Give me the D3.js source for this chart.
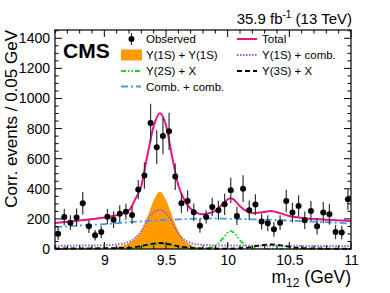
<!DOCTYPE html>
<html>
<head>
<meta charset="utf-8">
<script src="https://cdn.jsdelivr.net/npm/d3@7"></script>
<style>
  body { margin: 0; background: #fff; }
  svg text { font-family: "Liberation Sans", Arial, Helvetica, sans-serif; }
</style>
</head>
<body>
<div id="chart"></div>
<script>

// observed points (bin centres, corrected events, error)
const massBins = [8.625, 8.675, 8.725, 8.775, 8.825, 8.875, 8.925, 8.975, 9.025, 9.075, 9.125, 9.175,
  9.225, 9.275, 9.325, 9.375, 9.425, 9.475, 9.525, 9.575, 9.625, 9.675, 9.725, 9.775,
  9.825, 9.875, 9.925, 9.975, 10.025, 10.075, 10.125, 10.175, 10.225, 10.275, 10.325, 10.375,
  10.425, 10.475, 10.525, 10.575, 10.625, 10.675, 10.725, 10.775, 10.825, 10.875, 10.925, 10.975];
const observed = [102, 213, 175, 209, 304, 151, 91, 113, 215, 195, 235, 248,
  226, 395, 488, 837, 676, 751, 782, 481, 304, 319, 244, 155,
  213, 279, 257, 297, 390, 219, 401, 257, 295, 182, 171, 131,
  175, 319, 242, 286, 191, 253, 151, 242, 231, 113, 109, 330];
const observedErr = [42, 55, 49, 60, 75, 44, 35, 42, 51, 55, 55, 53,
  58, 64, 88, 128, 113, 122, 124, 89, 66, 71, 58, 47,
  44, 62, 64, 71, 84, 60, 89, 66, 69, 53, 53, 49,
  49, 75, 66, 71, 58, 66, 55, 71, 69, 47, 45, 71];

// fit components, sampled off the figure
const totalMass = [8.6, 8.8, 9.0, 9.1, 9.2, 9.25, 9.3, 9.35, 9.4, 9.45, 9.5, 9.55, 9.6, 9.65, 9.7, 9.8,
  9.9, 9.95, 10.0, 10.02, 10.05, 10.1, 10.15, 10.2, 10.3, 10.35, 10.4, 10.5, 10.6, 10.8, 11.0];
const totalVals = [173, 189, 209, 224, 257, 330, 420, 625, 815, 902, 822, 611, 423, 324, 268, 231,
  253, 290, 330, 338, 328, 284, 253, 239, 246, 252, 244, 219, 206, 195, 186];

const combMass = [8.6, 8.8, 9.0, 9.2, 9.4, 9.6, 9.8, 9.9, 10.0, 10.2, 10.4, 10.6, 10.8, 11.0];
const combVals = [146, 156, 165, 178, 189, 197, 202, 203, 201, 197, 192, 185, 178, 169];

const y1s1sMass = [8.6, 8.9, 9.0, 9.1, 9.2, 9.25, 9.3, 9.35, 9.4, 9.45, 9.5, 9.55, 9.6, 9.65, 9.7, 9.75, 9.8, 9.9, 11.0];
const y1s1sVals = [0, 1, 4, 14, 40, 70, 120, 215, 322, 380, 325, 220, 120, 58, 26, 11, 4, 1, 0];

const y1scombMass = [8.6, 9.0, 9.1, 9.2, 9.25, 9.3, 9.35, 9.4, 9.45, 9.5, 9.55, 9.6, 9.65, 9.7, 9.8, 10.0, 11.0];
const y1scombVals = [22, 24, 30, 47, 75, 120, 195, 245, 260, 238, 175, 100, 60, 40, 27, 23, 20];

const y2sMass = [8.6, 9.2, 9.3, 9.4, 9.45, 9.5, 9.6, 9.7, 9.8, 9.85, 9.9, 9.95, 10.0, 10.02, 10.05, 10.1, 10.15, 10.2, 10.3, 11.0];
const y2sVals = [2, 5, 14, 30, 35, 30, 14, 5, 3, 8, 22, 60, 108, 120, 108, 58, 22, 7, 2, 1];

const y3sMass = [8.6, 9.2, 9.3, 9.4, 9.45, 9.5, 9.6, 9.7, 9.8, 10.0, 10.15, 10.25, 10.35, 10.45, 10.55, 10.7, 11.0];
const y3sVals = [3, 8, 20, 36, 40, 36, 18, 8, 4, 3, 8, 22, 30, 22, 9, 4, 2];

const xTicks = [9, 9.5, 10, 10.5, 11];
const yTicks = [0, 200, 400, 600, 800, 1000, 1200, 1400];

let margin = {top: 30, right: 39, bottom: 44, left: 55};
let width = 390 - margin.left - margin.right;
let height = 293 - margin.top - margin.bottom;

const svg = d3.select('#chart')
    .append('svg')
    .attr('width', 390)
    .attr('height', 293);

const g = svg.append('g')
    .attr('transform', `translate(${margin.left},${margin.top})`);

const x = d3.scaleLinear().domain([8.6, 11]).range([0, width]);
const y = d3.scaleLinear().domain([0, 1455]).range([height, 0]);

const zip = (xs, ys) => xs.map((m, i) => ({m: m, v: ys[i]}));

// orange signal
const area = d3.area()
    .x(d => x(d.m))
    .y0(y(0))
    .y1(d => y(d.v))
    .curve(d3.curveMonotoneX);

g.append('path')
    .datum(zip(y1s1sMass, y1s1sVals))
    .attr('d', area)
    .attr('fill', '#ff9a00');

const line = d3.line()
    .x(d => x(d.m))
    .y(d => y(d.v))
    .curve(d3.curveMonotoneX);

const curves = [
  {xs: combMass, ys: combVals, color: '#3a9bf0', w: 1.8, dash: '7,3,2,3'},
  {xs: y1scombMass, ys: y1scombVals, color: '#9a5cd0', w: 2, dash: '1.5,1.5'},
  {xs: y2sMass, ys: y2sVals, color: '#1ed21e', w: 1.8, dash: '5,2,1.5,2,1.5,2'},
  {xs: y3sMass, ys: y3sVals, color: '#000', w: 1.8, dash: '5,3'},
  {xs: totalMass, ys: totalVals, color: '#ec1187', w: 2, dash: null}
];

curves.forEach(c => {
  g.append('path')
      .datum(zip(c.xs, c.ys))
      .attr('d', line)
      .attr('fill', 'none')
      .attr('stroke', c.color)
      .attr('stroke-width', c.w)
      .attr('stroke-dasharray', c.dash);
});

// data points
const pts = massBins.map((m, i) => ({m: m, v: observed[i], e: observedErr[i]}));

g.selectAll('.err')
    .data(pts)
    .enter().append('line')
    .attr('class', 'err')
    .attr('x1', d => x(d.m))
    .attr('x2', d => x(d.m))
    .attr('y1', d => y(d.v - d.e))
    .attr('y2', d => y(Math.min(d.v + d.e, 1455)))
    .attr('stroke', '#333')
    .attr('stroke-width', 1.2);

g.selectAll('.dot')
    .data(pts)
    .enter().append('circle')
    .attr('class', 'dot')
    .attr('cx', d => x(d.m))
    .attr('cy', d => y(d.v))
    .attr('r', 3)
    .attr('fill', '#000');

// axes, ROOT style ticks on all four sides pointing inward
const tickFont = '14px';

const xAxis = d3.axisBottom(x).tickValues(xTicks).tickSize(0).tickPadding(6)
    .tickFormat(d3.format(''));
g.append('g')
    .attr('transform', `translate(0,${height})`)
    .call(xAxis)
    .call(a => a.select('.domain').remove())
    .selectAll('text')
    .style('font-size', tickFont)
    .attr('fill', '#000');

const yAxis = d3.axisLeft(y).tickValues(yTicks).tickSize(0).tickPadding(5)
    .tickFormat(d3.format('d'));
g.append('g')
    .call(yAxis)
    .call(a => a.select('.domain').remove())
    .selectAll('text')
    .style('font-size', tickFont)
    .attr('fill', '#000');

const xMinor = d3.range(86, 111).map(d => d / 10);
const yMinor = d3.range(0, 1455, 50);

const ticks = g.append('g').attr('stroke', '#000').attr('stroke-width', 1);
xMinor.forEach(t => {
  let len = xTicks.indexOf(t) >= 0 ? 7 : 3.5;
  ticks.append('line').attr('x1', x(t)).attr('x2', x(t)).attr('y1', height).attr('y2', height - len);
  ticks.append('line').attr('x1', x(t)).attr('x2', x(t)).attr('y1', 0).attr('y2', len);
});
yMinor.forEach(t => {
  let len = t % 200 === 0 ? 7 : 3.5;
  ticks.append('line').attr('x1', 0).attr('x2', len).attr('y1', y(t)).attr('y2', y(t));
  ticks.append('line').attr('x1', width).attr('x2', width - len).attr('y1', y(t)).attr('y2', y(t));
});

g.append('rect')
    .attr('width', width)
    .attr('height', height)
    .attr('fill', 'none')
    .attr('stroke', '#000')
    .attr('stroke-width', 1.2);

// titles
svg.append('text')
    .attr('transform', 'translate(16.5,30) rotate(-90)')
    .attr('text-anchor', 'end')
    .style('font-size', '17px')
    .text('Corr. events / 0.05 GeV');

const xt = svg.append('text')
    .attr('x', 351)
    .attr('y', 283)
    .attr('text-anchor', 'end')
    .style('font-size', '17.5px');
xt.append('tspan').text('m');
xt.append('tspan').attr('dy', 4).style('font-size', '12px').text('12');
xt.append('tspan').attr('dy', -4).text(' (GeV)');

const lumi = svg.append('text')
    .attr('x', 352)
    .attr('y', 24)
    .attr('text-anchor', 'end')
    .style('font-size', '15px');
lumi.append('tspan').text('35.9 fb');
lumi.append('tspan').attr('dy', -6).style('font-size', '10px').text('-1');
lumi.append('tspan').attr('dy', 6).text(' (13 TeV)');

svg.append('text')
    .attr('x', 63)
    .attr('y', 58)
    .style('font-size', '21px')
    .style('font-weight', 'bold')
    .text('CMS');

// legend
const legend = [
  {label: 'Υ(1S) + Υ(1S)', kind: 'box', col: 0, row: 1},
  {label: 'Observed', kind: 'point', col: 0, row: 0},
  {label: 'Υ(2S) + X', kind: 'line', c: 2, col: 0, row: 2},
  {label: 'Comb. + comb.', kind: 'line', c: 0, col: 0, row: 3},
  {label: 'Total', kind: 'line', c: 4, col: 1, row: 0},
  {label: 'Υ(1S) + comb.', kind: 'line', c: 1, col: 1, row: 1},
  {label: 'Υ(3S) + X', kind: 'line', c: 3, col: 1, row: 2}
];
const colX = [121, 237];
const rowY = [39, 55, 71, 86.5];

legend.forEach(l => {
  let lx = colX[l.col], ly = rowY[l.row];
  if (l.kind === 'point') {
    svg.append('line').attr('x1', lx + 10.5).attr('x2', lx + 10.5).attr('y1', ly - 6).attr('y2', ly + 6)
        .attr('stroke', '#333').attr('stroke-width', 1.2);
    svg.append('circle').attr('cx', lx + 10.5).attr('cy', ly).attr('r', 3).attr('fill', '#000');
  } else if (l.kind === 'box') {
    svg.append('rect').attr('x', lx).attr('y', ly - 5.5).attr('width', 21).attr('height', 11).attr('fill', '#ff9a00');
  } else {
    let c = curves[l.c];
    svg.append('line').attr('x1', lx).attr('x2', lx + 20).attr('y1', ly).attr('y2', ly)
        .attr('stroke', c.color).attr('stroke-width', c.w).attr('stroke-dasharray', c.dash);
  }
  svg.append('text')
      .attr('x', lx + 25)
      .attr('y', ly + 4)
      .style('font-size', '11.5px')
      .text(l.label);
});

</script>
</body>
</html>
